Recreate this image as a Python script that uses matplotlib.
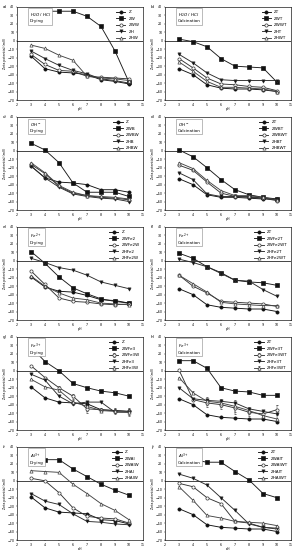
import numpy as np
import matplotlib
matplotlib.use("Agg")
import matplotlib.pyplot as plt

ph = [3, 4, 5, 6, 7, 8, 9, 10]

# series order in every panel: Z, ZW, ZWW, ZH, ZHW (with matching suffixes)
labels_a = ["Z", "ZW", "ZWW", "ZH", "ZHW"]
vals_a = [[-18, -33, -37, -38, -40, -46, -48, -51],
          [35, 35, 35, 35, 29, 17, -12, -49],
          [-16, -28, -35, -36, -42, -43, -44, -45],
          [-12, -21, -29, -35, -39, -45, -47, -50],
          [-5, -9, -17, -23, -42, -44, -45, -47]]

labels_b = ["ZT", "ZWT", "ZWWT", "ZHT", "ZHWT"]
vals_b = [[-33, -40, -52, -56, -57, -57, -58, -60],
          [2, -1, -7, -21, -30, -31, -32, -49],
          [-21, -32, -44, -51, -52, -54, -55, -59],
          [-16, -26, -38, -46, -47, -47, -47, -47],
          [-25, -36, -48, -55, -55, -56, -57, -60]]

labels_c = ["Z", "ZWB", "ZWBW", "ZHB", "ZHBW"]
vals_c = [[-18, -32, -37, -38, -40, -46, -46, -49],
          [9, 1, -14, -38, -49, -49, -49, -54],
          [-16, -27, -42, -50, -53, -55, -56, -58],
          [-18, -32, -43, -51, -54, -56, -57, -60],
          [-14, -26, -41, -49, -53, -54, -55, -57]]

labels_d = ["ZT", "ZWBT", "ZWBWT", "ZHBT", "ZHBWT"]
vals_d = [[-33, -40, -52, -55, -55, -56, -57, -57],
          [1, -7, -20, -34, -46, -52, -55, -57],
          [-17, -23, -37, -50, -54, -54, -56, -59],
          [-26, -34, -51, -54, -54, -55, -56, -58],
          [-14, -21, -35, -47, -53, -53, -55, -58]]

labels_e = ["Z", "ZWFe2", "ZWFe2W", "ZHFe2", "ZHFe2W"]
vals_e = [[-19, -31, -36, -37, -41, -46, -47, -50],
          [11, -3, -19, -32, -39, -45, -48, -50],
          [-12, -28, -44, -48, -49, -51, -52, -51],
          [3, -2, -8, -11, -17, -25, -29, -33],
          [-18, -30, -38, -44, -46, -50, -51, -52]]

labels_f = ["ZT", "ZWFe2T", "ZWFe2WT", "ZHFe2T", "ZHFe2WT"]
vals_f = [[-33, -40, -52, -55, -56, -57, -57, -60],
          [9, 3, -7, -14, -23, -25, -26, -29],
          [-17, -30, -38, -48, -49, -50, -51, -54],
          [2, -2, -7, -15, -23, -24, -34, -42],
          [-17, -27, -37, -49, -51, -52, -53, -53]]

labels_g = ["Z", "ZWFe3", "ZWFe3W", "ZHFe3", "ZHFe3W"]
vals_g = [[-19, -32, -37, -38, -39, -46, -47, -48],
          [28, 11, 0, -15, -20, -24, -26, -30],
          [6, -8, -20, -30, -45, -46, -47, -48],
          [-4, -11, -30, -39, -37, -37, -49, -49],
          [-10, -19, -23, -37, -42, -47, -48, -49]]
err_g = [0, 0, 2, 3, 5, 2, 3, 4]

labels_h = ["ZT", "ZWFe3T", "ZWFe3WT", "ZHFe3T", "ZHFe3WT"]
vals_h = [[-33, -40, -52, -55, -56, -57, -57, -60],
          [12, 12, 3, -20, -24, -25, -29, -29],
          [1, -34, -38, -40, -44, -49, -51, -46],
          [-20, -33, -35, -36, -38, -45, -48, -51],
          [-8, -26, -36, -38, -42, -47, -53, -57]]
err_h = [0, 2, 5, 5, 7, 4, 5, 5]

labels_i = ["Z", "ZWAl", "ZWAlW", "ZHAl", "ZHAlW"]
vals_i = [[-19, -32, -37, -38, -39, -46, -47, -51],
          [25, 25, 25, 14, 5, -4, -11, -17],
          [3, 0, -14, -32, -42, -44, -45, -50],
          [-15, -24, -28, -39, -48, -49, -51, -52],
          [12, 11, 10, -4, -15, -27, -35, -46]]

labels_j = ["ZT", "ZWAlT", "ZWAlWT", "ZHAlT", "ZHAlWT"]
vals_j = [[-33, -40, -52, -55, -56, -57, -57, -60],
          [30, 25, 22, 22, 11, 1, -15, -20],
          [-3, -7, -20, -27, -48, -50, -55, -57],
          [8, 3, -5, -20, -35, -51, -55, -56],
          [-7, -23, -41, -44, -48, -49, -50, -53]]

boxes = ["$H_2O$ / $HCl$\nDrying", "$H_2O$ / $HCl$\nCalcination",
         "$OH^-$\nDrying", "$OH^-$\nCalcination",
         "$Fe^{2+}$\nDrying", "$Fe^{2+}$\nCalcination",
         "$Fe^{3+}$\nDrying", "$Fe^{3+}$\nCalcination",
         "$Al^{3+}$\nDrying", "$Al^{3+}$\nCalcination"]
letters = "abcdefghij"

panels = [(labels_a, vals_a, None), (labels_b, vals_b, None),
          (labels_c, vals_c, None), (labels_d, vals_d, None),
          (labels_e, vals_e, None), (labels_f, vals_f, None),
          (labels_g, vals_g, err_g), (labels_h, vals_h, err_h),
          (labels_i, vals_i, None), (labels_j, vals_j, None)]

markers = ["o", "s", "o", "v", "^"]
faces = ["#111111", "#111111", "white", "#111111", "white"]
colors = ["#111111", "#1a1a1a", "#333333", "#2a2a2a", "#444444"]

fig = plt.figure(figsize=(2.96, 5.5), dpi=100)
fs = 2.6

for k, (labs, vals, err) in enumerate(panels):
    row, col = divmod(k, 2)
    left = 17 / 296 + col * 148 / 296
    top = 1 - (7 + 110 * row) / 550
    ax = fig.add_axes([left, top - 93 / 550, 126 / 296, 93 / 550])
    ax.axhline(0, color="#444444", lw=0.7, zorder=1)
    for i in range(5):
        yerr = err if (err is not None and i in (2, 4)) else None
        ax.errorbar(ph, vals[i], yerr=yerr, marker=markers[i], ms=2.3,
                    mfc=faces[i], mec=colors[i], color=colors[i], lw=0.65,
                    mew=0.5, elinewidth=0.35, capsize=0.6, label=labs[i])
    ax.set_xlim(2, 11)
    ax.set_ylim(-70, 40)
    ax.set_xticks(range(2, 12))
    ax.set_yticks(range(-70, 41, 10))
    ax.tick_params(labelsize=fs - 0.3, length=1, width=0.3, pad=0.8)
    for s in ax.spines.values():
        s.set_linewidth(0.45)
    ax.set_xlabel("pH", fontsize=fs - 0.3, labelpad=0.5)
    ax.set_ylabel("Zeta potential (mV)", fontsize=fs - 0.3, labelpad=0.5)
    ax.text(2.9, 35, boxes[k], fontsize=fs + 0.4, va="top", ha="left",
            bbox=dict(boxstyle="square,pad=0.3", fc="white", ec="#888888", lw=0.4))
    ax.legend(loc="upper right", fontsize=fs + 0.4, frameon=False,
              handlelength=2.2, labelspacing=0.6, borderaxespad=0.4)
    fig.text(left - 14 / 296, top + 2 / 550, letters[k] + ")", fontsize=fs + 0.4,
             va="top", ha="left")

fig.savefig("out.png", dpi=100)
